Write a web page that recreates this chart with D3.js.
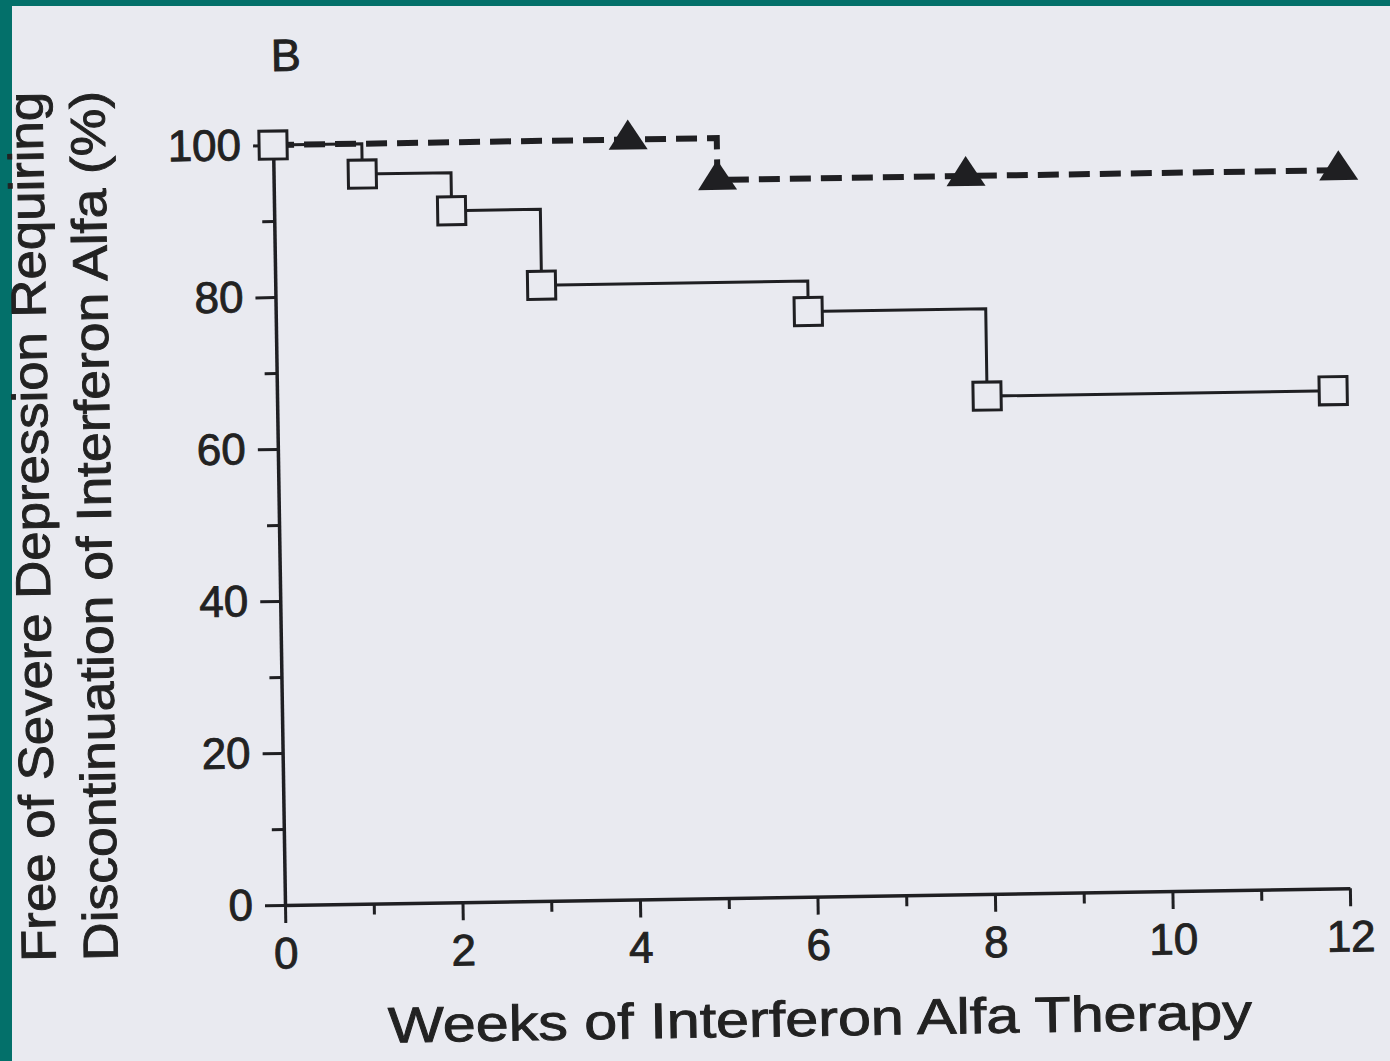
<!DOCTYPE html>
<html>
<head>
<meta charset="utf-8">
<script src="https://cdn.jsdelivr.net/npm/d3@7"></script>
<style>
  body { margin: 0; background: #e9eaf0; }
  svg { display: block; }
  text { font-family: "Liberation Sans", Arial, sans-serif; fill: #222; stroke: #222; stroke-width: 0.9px; }
</style>
</head>
<body>
<svg id="chart"></svg>
<script>
// Kaplan-Meier style curves
const squareWeeks = [0, 1, 2, 3, 6, 8, 11.9];
const squareValues = [100, 96, 91, 81, 77, 65.5, 65.5];
const triangleWeeks = [0, 4, 5, 7.8, 12];
const triangleValues = [100, 100, 94.5, 94.5, 94.5];

const xTicks = [0, 1, 2, 3, 4, 5, 6, 7, 8, 9, 10, 11, 12];
const yTicks = [0, 10, 20, 30, 40, 50, 60, 70, 80, 90, 100];

const panelLabel = "B";
const xTitle = "Weeks of Interferon Alfa Therapy";
const yTitle = ["Free of Severe Depression Requiring", "Discontinuation of Interferon Alfa (%)"];

const width = 1390;
const height = 1061;
const originX = 285;
const originY = 905;
const ink = "#1f1f22";
const paper = "#e9eaf0";

const svg = d3.select("#chart")
  .attr("width", width)
  .attr("height", height);

svg.append("rect").attr("width", width).attr("height", height).attr("fill", paper);
// teal frame of the slide
svg.append("rect").attr("width", 12).attr("height", height).attr("fill", "#03706a");
svg.append("rect").attr("width", width).attr("height", 6).attr("fill", "#03706a");

const x = d3.scaleLinear().domain([0, 12]).range([originX, originX + 1065]);
const y = d3.scaleLinear().domain([0, 100]).range([originY, originY - 760]);

// the scan is slightly tilted
const g = svg.append("g").attr("transform", `rotate(-0.9, ${originX}, ${originY})`);

// axes
const yAxis = g.append("g")
  .attr("transform", `translate(${originX},0)`)
  .call(d3.axisLeft(y).tickValues(yTicks).tickSize(20).tickPadding(12).tickSizeOuter(0)
    .tickFormat(d => d % 20 === 0 ? d : ""));

const xAxis = g.append("g")
  .attr("transform", `translate(0,${originY})`)
  .call(d3.axisBottom(x).tickValues(xTicks).tickSize(18).tickPadding(14).tickSizeOuter(0)
    .tickFormat(d => d % 2 === 0 ? d : ""));

[yAxis, xAxis].forEach(a => {
  a.select(".domain").attr("stroke", ink).attr("stroke-width", 3.5);
  a.selectAll(".tick line").attr("stroke", ink).attr("stroke-width", 3);
  a.selectAll(".tick text").attr("font-size", 44).attr("fill", ink);
});
yAxis.selectAll(".tick line").filter(d => d % 20 !== 0).attr("x2", -12);
xAxis.selectAll(".tick line").filter(d => d % 2 !== 0).attr("y2", 11);

// curves
const step = d3.line().curve(d3.curveStepAfter);

g.append("path")
  .attr("d", step(squareWeeks.map((w, i) => [x(w), y(squareValues[i])])))
  .attr("fill", "none")
  .attr("stroke", ink)
  .attr("stroke-width", 3);

g.append("path")
  .attr("d", step(triangleWeeks.map((w, i) => [x(w), y(triangleValues[i])])))
  .attr("fill", "none")
  .attr("stroke", ink)
  .attr("stroke-width", 6)
  .attr("stroke-dasharray", "21 10");

const tri = {
  draw(ctx, size) {
    const w = 39, h = 30;
    ctx.moveTo(0, -h * 2 / 3);
    ctx.lineTo(w / 2, h / 3);
    ctx.lineTo(-w / 2, h / 3);
    ctx.closePath();
  }
};

g.append("g").selectAll("path")
  .data(triangleWeeks.map((w, i) => ({ w, v: triangleValues[i] })).slice(1))
  .join("path")
  .attr("d", d3.symbol().type(tri))
  .attr("transform", d => `translate(${x(d.w)},${y(d.v)})`)
  .attr("fill", ink);

g.append("g").selectAll("rect")
  .data(squareWeeks.map((w, i) => ({ w, v: squareValues[i] })))
  .join("rect")
  .attr("x", d => x(d.w) - 14)
  .attr("y", d => y(d.v) - 14)
  .attr("width", 28)
  .attr("height", 28)
  .attr("fill", paper)
  .attr("stroke", ink)
  .attr("stroke-width", 3);

// labels
g.append("text")
  .attr("x", 299)
  .attr("y", 71)
  .attr("text-anchor", "middle")
  .attr("font-size", 45)
  .text(panelLabel);

g.append("text")
  .attr("x", 818)
  .attr("y", 1044)
  .attr("text-anchor", "middle")
  .attr("font-size", 50)
  .attr("textLength", 864)
  .attr("lengthAdjust", "spacingAndGlyphs")
  .text(xTitle);

yTitle.forEach((line, i) => {
  g.append("text")
    .attr("transform", `translate(${55 + i * 62},523) rotate(-90)`)
    .attr("text-anchor", "middle")
    .attr("font-size", 49)
    .attr("textLength", 870)
    .attr("lengthAdjust", "spacingAndGlyphs")
    .text(line);
});
</script>
</body>
</html>
